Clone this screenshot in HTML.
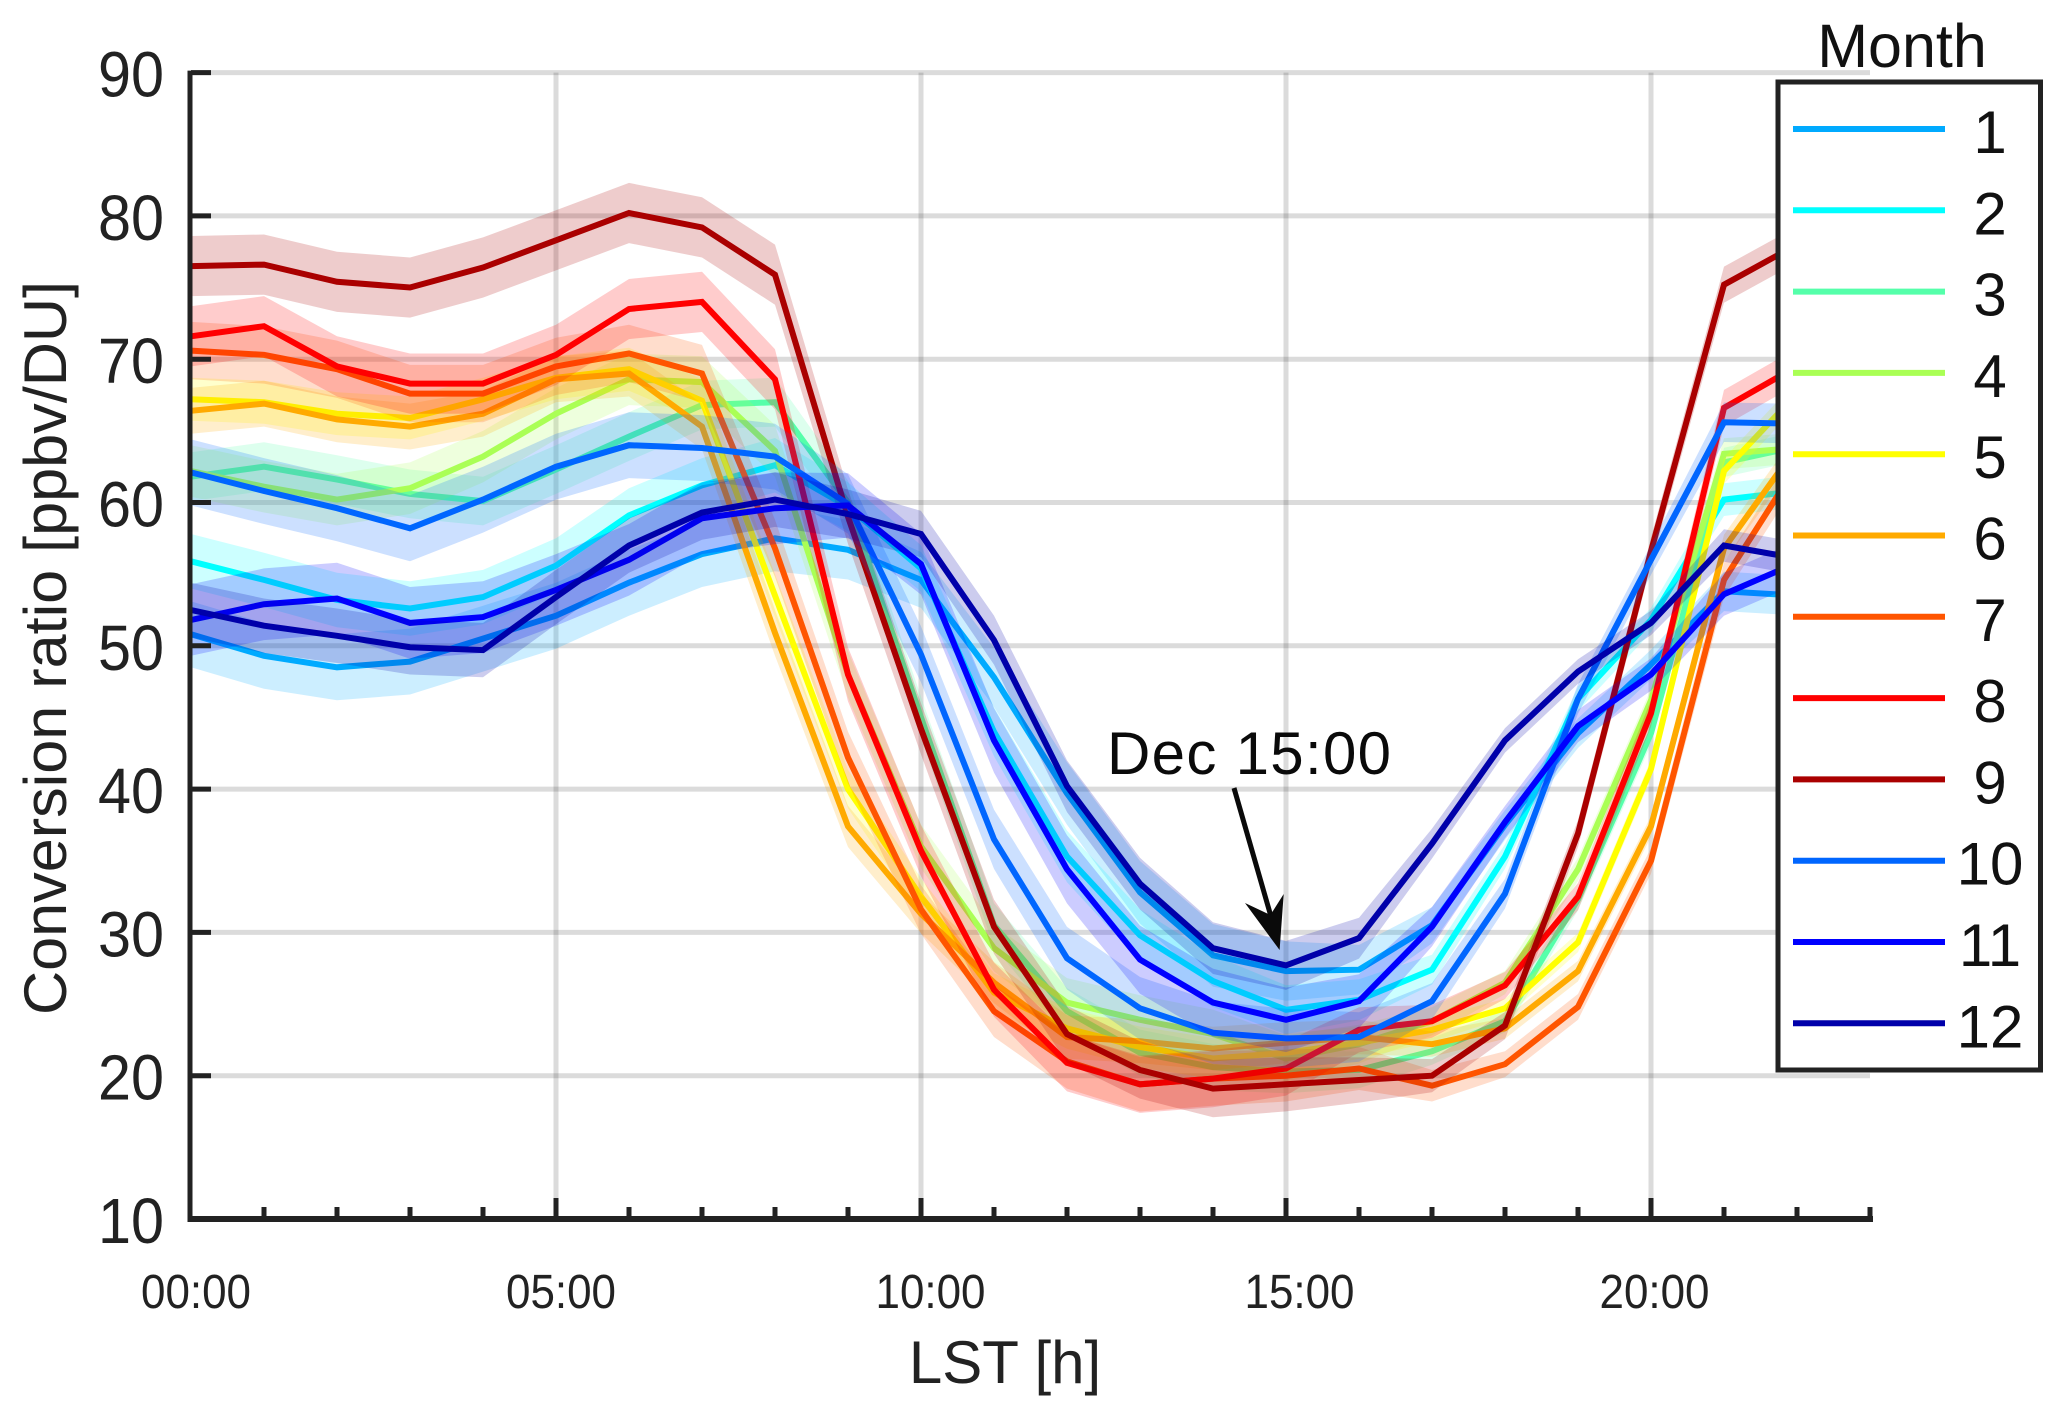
<!DOCTYPE html>
<html lang="en">
<head>
<meta charset="utf-8">
<title>Conversion ratio by local solar time</title>
<style>
html,body{margin:0;padding:0;background:#fff;}
svg{display:block;font-family:"Liberation Sans",Arial,sans-serif;}
</style>
</head>
<body>
<svg id="chart" xmlns="http://www.w3.org/2000/svg" width="2067" height="1418" viewBox="0 0 2067 1418">
  <rect x="0" y="0" width="2067" height="1418" fill="#ffffff"/>
  <g id="grid"></g>
  <g id="series"></g>
  <g id="axes"></g>
  <text transform="translate(66,648) rotate(-90)" text-anchor="middle" font-size="60" fill="#222" textLength="734" lengthAdjust="spacingAndGlyphs">Conversion ratio [ppbv/DU]</text>
  <text x="1005" y="1383" text-anchor="middle" font-size="60" fill="#222">LST [h]</text>
  <g>
    <text x="1107" y="774" font-size="60" fill="#0a0a0a" textLength="284" lengthAdjust="spacing">Dec 15:00</text>
    <line x1="1234" y1="788" x2="1272" y2="920" stroke="#0a0a0a" stroke-width="5"/>
    <polygon points="1279.6,950 1245,903 1270.4,915 1283.7,894" fill="#0a0a0a"/>
  </g>
  <g>
    <rect x="1778" y="82" width="262.5" height="988" fill="#ffffff" stroke="#222" stroke-width="5"/>
    <text x="1902" y="67" text-anchor="middle" font-size="61" fill="#111">Month</text>
    <g id="legend-entries"></g>
  </g>
</svg>
<script>
// ---- data ----
var hours = [0,1,2,3,4,5,6,7,8,9,10,11,12,13,14,15,16,17,18,19,20,21,22,23];
var monthNames = ['1','2','3','4','5','6','7','8','9','10','11','12'];
var monthColors = ['#00aaff','#00ffff','#55ffaa','#aaff55','#ffff00','#ffaa00','#ff5500','#ff0000','#aa0000','#0066ff','#0000ff','#0000aa'];

var month1  = [50.8,49.3,48.5,48.9,50.5,52.1,54.4,56.4,57.5,56.7,54.6,47.8,39.7,32.8,28.4,27.3,27.4,30.5,37.5,43.9,48.7,53.8,53.5,53.5];
var month2  = [55.9,54.6,53.2,52.6,53.4,55.6,59.1,61.2,62.6,59.7,55.4,44.0,35.3,29.8,26.6,24.6,25.3,27.4,35.3,46.3,51.8,60.2,60.8,61.0];
var month3  = [61.8,62.5,61.6,60.6,60.1,62.3,64.6,66.8,67.0,60.0,45.0,30.5,24.5,21.6,20.6,20.3,20.4,21.7,23.8,32.3,43.9,62.8,63.9,64.5];
var month4  = [62.2,61.1,60.2,61.0,63.2,66.2,68.6,68.4,63.6,48.0,36.0,28.9,25.1,23.9,22.9,21.2,22.2,23.8,26.5,34.4,46.2,63.4,63.8,64.0];
var month5  = [67.2,67.0,66.2,65.9,67.2,68.7,69.3,67.1,53.5,40.0,32.5,25.8,23.3,22.0,21.2,21.6,22.3,23.2,24.7,29.3,41.4,62.2,67.6,69.0];
var month6  = [66.4,66.9,65.8,65.3,66.2,68.6,69.0,65.3,50.9,37.4,31.3,26.5,22.7,22.4,21.9,22.3,22.7,22.2,23.3,27.3,37.4,56.8,63.9,66.0];
var month7  = [70.6,70.3,69.3,67.6,67.6,69.5,70.4,69.0,56.8,42.2,31.6,24.5,21.0,19.4,19.8,20.0,20.5,19.3,20.8,24.8,35.0,54.6,62.6,65.0];
var month8  = [71.6,72.3,69.5,68.3,68.3,70.3,73.5,74.0,68.6,48.0,35.7,26.0,20.9,19.4,19.8,20.5,23.2,23.8,26.3,32.5,45.3,66.6,69.5,71.0];
var month9  = [76.5,76.6,75.4,75.0,76.4,78.3,80.2,79.2,75.9,59.0,44.2,30.4,22.9,20.4,19.1,19.4,19.7,20.0,23.5,36.9,56.6,75.2,78.0,79.0];
var month10 = [62.1,60.8,59.6,58.2,60.2,62.5,64.0,63.8,63.2,59.9,49.4,36.5,28.2,24.7,23.0,22.6,22.7,25.2,32.7,46.3,56.0,65.6,65.5,65.0];
var month11 = [51.8,52.9,53.3,51.6,52.0,53.9,56.0,58.9,59.6,59.8,55.7,43.4,34.4,28.1,25.1,23.9,25.2,30.4,37.7,44.4,48.0,53.6,55.8,57.0];
var month12 = [52.5,51.4,50.7,49.9,49.7,53.4,57.0,59.3,60.2,59.2,57.8,50.4,40.2,33.4,28.9,27.7,29.6,36.2,43.4,48.2,51.6,57.0,56.1,55.5];
var monthValues = [month1,month2,month3,month4,month5,month6,month7,month8,month9,month10,month11,month12];

// half width of each shaded band (ppbv/DU) and how it changes through the day
var bandHalfWidth = [2.3,1.9,1.7,1.8,1.5,1.6,2.0,2.1,2.1,2.3,2.5,1.9];
var bandHourFactor = [1,1,1,1,1,1,1,1,1,0.9,0.85,0.9,0.95,0.95,0.95,0.9,0.75,0.55,0.45,0.45,0.45,0.6,0.6,0.6];

var yTicks = [10,20,30,40,50,60,70,80,90];
var xMajorTicks = [0,5,10,15,20];
var xTickLabels = ['00:00','05:00','10:00','15:00','20:00'];

// ---- axis functions ----
var NS = 'http://www.w3.org/2000/svg';
var xLeft = 191, xPerHour = 73, yBase = 1219, yPerUnit = 14.33;
var xLabelNudge = [5, 5, 9.5, 13.5, 3.5];
function xScale(h){ return xLeft + h * xPerHour; }
function yScale(v){ return yBase - (v - 10) * yPerUnit; }
function make(tag, parent){
  var n = document.createElementNS(NS, tag);
  parent.appendChild(n);
  return n;
}
function setAll(n, obj){ for (var k in obj) n.setAttribute(k, obj[k]); }

var gridG = document.getElementById('grid');
var seriesG = document.getElementById('series');
var axesG = document.getElementById('axes');
var legendG = document.getElementById('legend-entries');
var xEnd = xScale(hours[hours.length - 1]);

// grid
yTicks.slice(1).forEach(function(v){
  var l = make('line', gridG);
  
  
  setAll(l, {x1:xLeft, x2:xEnd, y1:yScale(v), y2:yScale(v), stroke:'rgba(0,0,0,0.14)', 'stroke-width':5});
});
xMajorTicks.slice(1).forEach(function(h){
  var l = make('line', gridG);
  
  
  setAll(l, {x1:xScale(h), x2:xScale(h), y1:yScale(90), y2:yBase, stroke:'rgba(0,0,0,0.14)', 'stroke-width':5});
});

// series: band then line, in month order
monthValues.forEach(function(vals, m){
  var upper = [], lower = [], line = [];
  vals.forEach(function(v, i){
    var hw = bandHalfWidth[m] * bandHourFactor[i];
    var x = xScale(hours[i]).toFixed(1);
    upper.push(x + ',' + yScale(v + hw).toFixed(1));
    lower.unshift(x + ',' + yScale(v - hw).toFixed(1));
    line.push(x + ',' + yScale(v).toFixed(1));
  });
  var band = make('polygon', seriesG);
  
  
  setAll(band, {points:upper.concat(lower).join(' '), fill:monthColors[m], 'fill-opacity':0.2, stroke:'none'});
  var pl = make('polyline', seriesG);
  
  
  setAll(pl, {points:line.join(' '), fill:'none', stroke:monthColors[m], 'stroke-width':6, 'stroke-linejoin':'miter'});
});

// axes lines
var yAxisLine = make('line', axesG);


setAll(yAxisLine, {x1:xLeft-1, x2:xLeft-1, y1:yScale(90)-2, y2:yBase+3, stroke:'#222', 'stroke-width':5});
var xAxisLine = make('line', axesG);


setAll(xAxisLine, {x1:xLeft-3, x2:xEnd+3, y1:yBase, y2:yBase, stroke:'#222', 'stroke-width':6});

// y ticks and labels
yTicks.forEach(function(v){
  var t = make('line', axesG);
  
  
  setAll(t, {x1:xLeft, x2:xLeft+20, y1:yScale(v), y2:yScale(v), stroke:'#222', 'stroke-width':5});
  var lab = make('text', axesG);
  
  
  setAll(lab, {x:164, y:yScale(v)+24, 'text-anchor':'end', 'font-size':64, fill:'#222', textLength:66, lengthAdjust:'spacingAndGlyphs'});
  lab.textContent = String(v);
});

// x ticks and labels
hours.forEach(function(h){
  var major = xMajorTicks.indexOf(h) >= 0;
  if (h === 0) return;
  var t = make('line', axesG);
  
  
  setAll(t, {x1:xScale(h), x2:xScale(h), y1:yBase, y2:yBase-(major?21:12), stroke:'#222', 'stroke-width':5});
});
xMajorTicks.forEach(function(h, i){
  var lab = make('text', axesG);
  
  
  setAll(lab, {x:xScale(h)+xLabelNudge[i], y:1308, 'text-anchor':'middle', 'font-size':48, fill:'#222', textLength:110, lengthAdjust:'spacingAndGlyphs'});
  lab.textContent = xTickLabels[i];
});

// legend entries
monthNames.forEach(function(name, m){
  var rowY = 129 + m * 81.3;
  var key = make('line', legendG);
  
  
  setAll(key, {x1:1793, x2:1945, y1:rowY, y2:rowY, stroke:monthColors[m], 'stroke-width':6});
  var lab = make('text', legendG);
  
  
  setAll(lab, {x:1990, y:rowY+24, 'text-anchor':'middle', 'font-size':60, fill:'#111'});
  lab.textContent = name;
});
</script>
</body>
</html>
